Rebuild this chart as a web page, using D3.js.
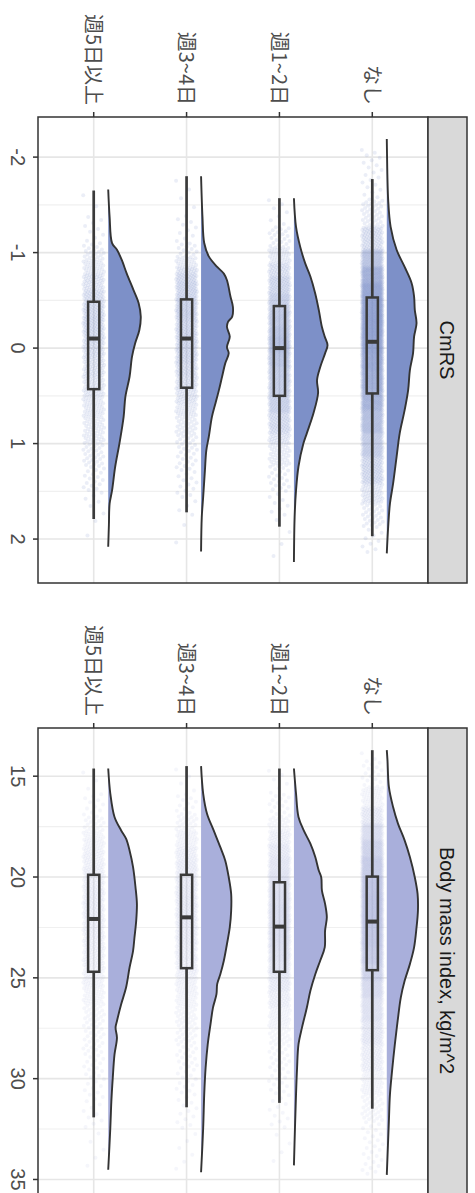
<!DOCTYPE html>
<html><head><meta charset="utf-8">
<script src="https://cdn.jsdelivr.net/npm/d3@7"></script>
<style>html,body{margin:0;padding:0;background:#fff;} svg{display:block;}</style>
</head><body><svg id="chart" width="475" height="1193"></svg>
<script>
// ---------------- data ----------------
const categories = ["週5日以上", "週3~4日", "週1~2日", "なし"];
const panelTitles = ["CmRS", "Body mass index, kg/m^2"];
const cmrsTicks = [-2, -1, 0, 1, 2];
const bmiTicks = [15, 20, 25, 30, 35];
const cmrsDomain = [-2.42, 2.46];
const bmiDomain = [12.61, 35.72];
// box stats per category: [lower whisker, Q1, median, Q3, upper whisker]
const cmrsBox = [
  [-1.65, -0.485, -0.10, 0.43, 1.79],
  [-1.80, -0.51, -0.10, 0.415, 1.72],
  [-1.57, -0.44, 0.00, 0.50, 1.87],
  [-1.77, -0.53, -0.066, 0.475, 1.97]
];
const bmiBox = [
  [14.62, 19.89, 22.08, 24.70, 31.92],
  [14.50, 19.89, 22.00, 24.52, 31.42],
  [14.62, 20.26, 22.46, 24.70, 31.20],
  [13.71, 19.98, 22.21, 24.62, 31.49]
];
// densities: [value, relative density]
const cmrsDens5 = [[-1.66,0],[-1.375,.04],[-1.10,.11],[-1.03,.25],[-0.92,.39],[-0.78,.53],[-0.61,.72],[-0.47,.87],[-0.33,.93],[-0.19,.89],[-0.05,.77],[0.09,.68],[0.30,.61],[0.51,.49],[0.72,.44],[1.0,.32],[1.24,.20],[1.49,.11],[1.63,.04],[1.85,.02],[2.08,0]];
const cmrsDens34 = [[-1.80,0],[-1.375,.04],[-1.10,.09],[-0.96,.22],[-0.85,.46],[-0.78,.65],[-0.71,.74],[-0.54,.84],[-0.43,.91],[-0.33,.89],[-0.275,.77],[-0.22,.74],[-0.12,.82],[-0.01,.74],[0.055,.79],[0.16,.69],[0.30,.60],[0.44,.51],[0.58,.41],[0.72,.31],[0.93,.22],[1.07,.15],[1.28,.11],[1.56,.06],[1.77,.02],[2.13,0]];
const cmrsDens12 = [[-1.57,0],[-1.27,.06],[-1.06,.18],[-0.89,.32],[-0.75,.47],[-0.57,.61],[-0.40,.71],[-0.22,.80],[-0.12,.88],[-0.03,.96],[0.055,.89],[0.20,.75],[0.335,.66],[0.47,.69],[0.68,.56],[0.89,.37],[1.0,.27],[1.24,.13],[1.49,.06],[1.77,.02],[2.24,0]];
const cmrsDensNone = [[-2.19,0],[-2.07,.005],[-1.55,.04],[-1.27,.11],[-1.03,.28],[-0.85,.51],[-0.68,.71],[-0.54,.78],[-0.40,.80],[-0.26,.85],[-0.12,.78],[0.055,.75],[0.23,.66],[0.44,.61],[0.65,.51],[0.89,.37],[1.14,.28],[1.42,.18],[1.63,.09],[1.87,.04],[2.15,0]];
const bmiDens5 = [[14.62,0],[15.86,.06],[17.02,.18],[17.69,.37],[18.10,.51],[18.68,.61],[19.51,.71],[20.51,.78],[21.33,.82],[22.16,.80],[23.0,.75],[23.66,.71],[24.49,.61],[25.48,.51],[26.31,.37],[27.14,.25],[27.47,.21],[27.97,.25],[28.80,.18],[29.96,.13],[31.12,.09],[32.45,.06],[34.52,0]];
const bmiDens34 = [[14.50,0],[15.86,.06],[16.86,.17],[17.69,.36],[18.52,.55],[19.18,.69],[20.01,.79],[20.84,.86],[21.67,.86],[22.50,.82],[23.32,.74],[24.15,.65],[24.82,.55],[25.31,.46],[25.81,.44],[26.48,.34],[27.30,.27],[28.30,.19],[29.46,.13],[30.79,.09],[32.45,.06],[34.64,0]];
const bmiDens12 = [[14.62,0],[15.86,.06],[17.02,.13],[17.69,.28],[18.35,.47],[19.01,.61],[19.68,.71],[20.01,.78],[20.67,.80],[21.33,.89],[22.0,.94],[22.66,.89],[23.49,.88],[24.15,.75],[24.82,.61],[25.64,.47],[26.47,.37],[27.47,.23],[28.30,.13],[29.46,.09],[30.79,.06],[32.45,.03],[34.30,0]];
const bmiDensNone = [[13.71,0],[14.20,.02],[15.53,.06],[16.53,.18],[17.35,.32],[18.18,.51],[19.01,.66],[20.01,.80],[20.84,.88],[21.67,.89],[22.50,.85],[23.49,.78],[24.32,.66],[25.15,.51],[25.98,.40],[27.14,.31],[28.30,.23],[29.63,.15],[30.79,.09],[32.11,.06],[34.77,0]];
// approximate number of raw observations per group (drawn as a jittered cloud)
const groupN = [600, 700, 1100, 2600];

// ---------------- layout / style ----------------
const W = 475, H = 1193;
const L = 38, R = 428, SR = 467;
const panelBoxes = [{top: 117, bottom: 583}, {top: 728, bottom: 1194}];
const fills = ["#7d90c8", "#a9afdb"];
const ptColors = ["#6f85c4", "#9aa2d6"];
const ptOpacity = [0.14, 0.10];
const fontLatin = "'Liberation Sans', Arial, Helvetica, sans-serif";
const fontJP = "'Noto Sans CJK JP', 'Noto Sans CJK SC', sans-serif";
const dark = "#333333";

const svg = d3.select("#chart");
svg.append("rect").attr("width", W).attr("height", H).attr("fill", "#fff");

const x = d3.scalePoint().domain(categories).range([L, R]).padding(0.6);
const wScale = d3.scaleLinear().domain([0, 1]).range([0, 35]);
const densOffset = 14.5, boxHalf = 5.6, jitterHalf = 10.5;

function quantilePoints(dens, n) {
  const cum = [0];
  for (let i = 1; i < dens.length; i++) {
    cum.push(cum[i-1] + (dens[i-1][1] + dens[i][1]) / 2 * (dens[i][0] - dens[i-1][0]));
  }
  const total = cum[cum.length - 1];
  const out = [];
  let seg = 0;
  for (let k = 0; k < n; k++) {
    const p = (k + 0.5) / n * total;
    while (seg < cum.length - 2 && cum[seg + 1] < p) seg++;
    const t = (p - cum[seg]) / ((cum[seg + 1] - cum[seg]) || 1);
    const v = dens[seg][0] + t * (dens[seg + 1][0] - dens[seg][0]);
    const j = ((k * 0.6180339887) % 1) * 2 - 1;
    out.push([v, j]);
  }
  return out;
}

const panels = [
  {title: panelTitles[0], ticks: cmrsTicks, domain: cmrsDomain, box: cmrsBox, dens: [cmrsDens5, cmrsDens34, cmrsDens12, cmrsDensNone]},
  {title: panelTitles[1], ticks: bmiTicks, domain: bmiDomain, box: bmiBox, dens: [bmiDens5, bmiDens34, bmiDens12, bmiDensNone]}
];

panels.forEach((P, pi) => {
  const pb = panelBoxes[pi];
  const y = d3.scaleLinear().domain(P.domain).range([pb.top, pb.bottom]);
  const g = svg.append("g");
  const clipId = "clip" + pi;
  svg.append("clipPath").attr("id", clipId).append("rect")
    .attr("x", L).attr("y", pb.top).attr("width", R - L).attr("height", pb.bottom - pb.top);
  const inner = g.append("g").attr("clip-path", `url(#${clipId})`);

  // grid
  const step = P.ticks[1] - P.ticks[0];
  const minor = [];
  for (let v = P.ticks[0] - step / 2; v <= P.domain[1]; v += step) if (v >= P.domain[0]) minor.push(v);
  inner.selectAll(".minor").data(minor).join("line")
    .attr("x1", L).attr("x2", R).attr("y1", d => y(d)).attr("y2", d => y(d))
    .attr("stroke", "#f0f0f0").attr("stroke-width", 1.1);
  inner.selectAll(".major").data(P.ticks).join("line")
    .attr("x1", L).attr("x2", R).attr("y1", d => y(d)).attr("y2", d => y(d))
    .attr("stroke", "#e6e6e6").attr("stroke-width", 1.6);
  inner.selectAll(".vmajor").data(categories).join("line")
    .attr("x1", d => x(d)).attr("x2", d => x(d)).attr("y1", pb.top).attr("y2", pb.bottom)
    .attr("stroke", "#e6e6e6").attr("stroke-width", 1.6);

  categories.forEach((c, ci) => {
    const cx = x(c);
    const dens = P.dens[ci];
    // points
    const pts = quantilePoints(dens, groupN[ci]);
    inner.append("g").selectAll("circle").data(pts).join("circle")
      .attr("cx", d => cx + d[1] * jitterHalf)
      .attr("cy", d => y(d[0]))
      .attr("r", 2)
      .attr("fill", ptColors[pi])
      .attr("fill-opacity", ptOpacity[pi]);
    // box
    const b = P.box[ci];
    inner.append("line").attr("x1", cx).attr("x2", cx).attr("y1", y(b[0])).attr("y2", y(b[1]))
      .attr("stroke", "#3a3a3a").attr("stroke-width", 2.7);
    inner.append("line").attr("x1", cx).attr("x2", cx).attr("y1", y(b[3])).attr("y2", y(b[4]))
      .attr("stroke", "#3a3a3a").attr("stroke-width", 2.7);
    inner.append("rect").attr("x", cx - boxHalf).attr("width", boxHalf * 2)
      .attr("y", y(b[1])).attr("height", y(b[3]) - y(b[1]))
      .attr("fill", "none").attr("stroke", "#3a3a3a").attr("stroke-width", 2.5);
    inner.append("line").attr("x1", cx - boxHalf).attr("x2", cx + boxHalf).attr("y1", y(b[2])).attr("y2", y(b[2]))
      .attr("stroke", "#3a3a3a").attr("stroke-width", 4);
    // half violin
    const base = cx + densOffset;
    const area = d3.area().y(d => y(d[0])).x0(base).x1(d => base + wScale(d[1])).curve(d3.curveCatmullRom);
    const line = d3.line().y(d => y(d[0])).x(d => base + wScale(d[1])).curve(d3.curveCatmullRom);
    inner.append("path").datum(dens).attr("d", area).attr("fill", fills[pi]);
    inner.append("path").datum(dens).attr("d", line).attr("fill", "none")
      .attr("stroke", dark).attr("stroke-width", 1.9).attr("stroke-linejoin", "round");
  });

  // panel border
  g.append("rect").attr("x", L).attr("y", pb.top).attr("width", R - L).attr("height", pb.bottom - pb.top)
    .attr("fill", "none").attr("stroke", dark).attr("stroke-width", 1.5);
  // strip
  g.append("rect").attr("x", R).attr("y", pb.top).attr("width", SR - R).attr("height", pb.bottom - pb.top)
    .attr("fill", "#d9d9d9").attr("stroke", dark).attr("stroke-width", 1.5);
  const midY = (pb.top + Math.min(pb.bottom, 1193)) / 2;
  g.append("text").attr("transform", `translate(${(R + SR) / 2 - 7.2},${midY}) rotate(90)`)
    .attr("text-anchor", "middle").attr("font-family", fontLatin).attr("font-size", 20)
    .attr("fill", "#1a1a1a").text(P.title);

  // value axis (left)
  g.selectAll(".vt").data(P.ticks).join("line")
    .attr("x1", L - 5).attr("x2", L).attr("y1", d => y(d)).attr("y2", d => y(d))
    .attr("stroke", dark).attr("stroke-width", 1.5);
  g.selectAll(".vl").data(P.ticks).join("text")
    .attr("transform", d => `translate(11,${y(d)}) rotate(90)`)
    .attr("text-anchor", "middle").attr("font-family", fontLatin).attr("font-size", 20)
    .attr("fill", "#4d4d4d").text(d => d);

  // category axis (top)
  g.selectAll(".ct").data(categories).join("line")
    .attr("x1", d => x(d)).attr("x2", d => x(d)).attr("y1", pb.top - 5).attr("y2", pb.top)
    .attr("stroke", dark).attr("stroke-width", 1.5);
  g.selectAll(".cl").data(categories).join("text")
    .attr("transform", d => `translate(${x(d) - 7.6},${pb.top - 12}) rotate(90)`)
    .attr("text-anchor", "end").attr("font-family", fontJP).attr("font-size", 20)
    .attr("fill", "#4d4d4d").text(d => d);
});
</script>
</body></html>
